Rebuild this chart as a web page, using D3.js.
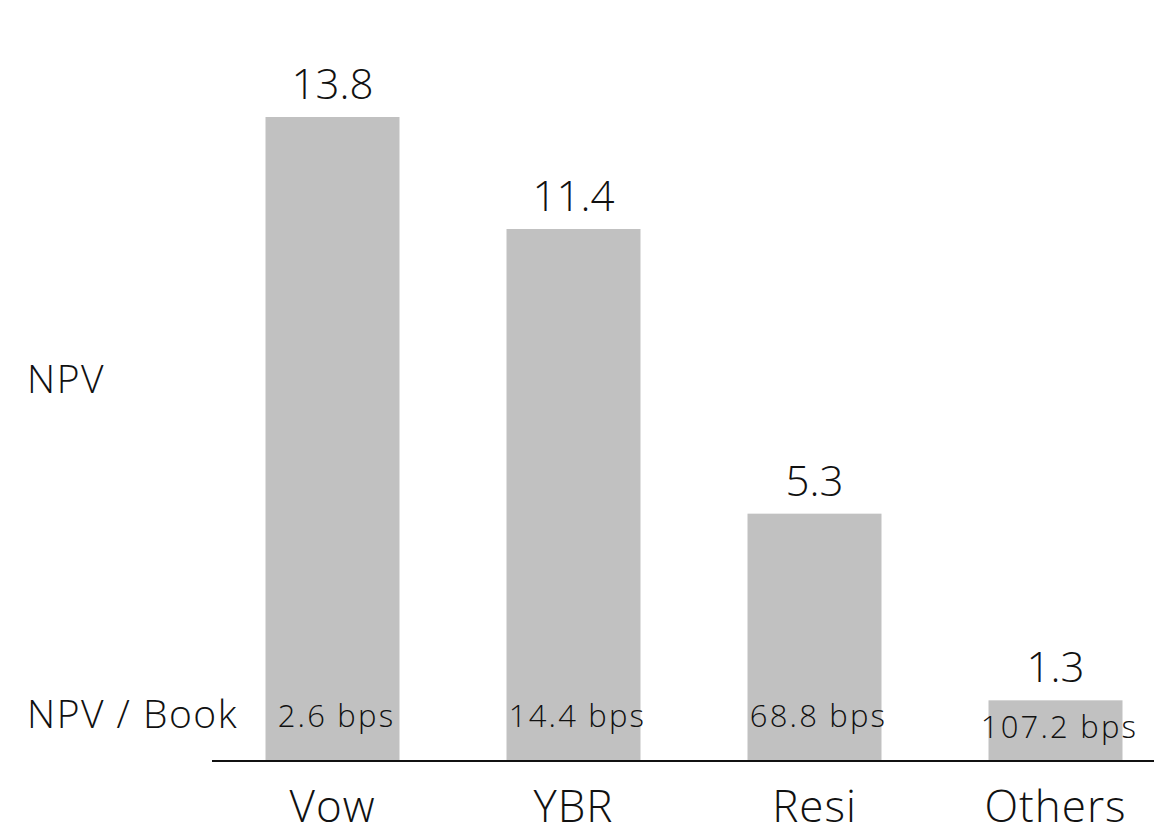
<!DOCTYPE html>
<html>
<head>
<meta charset="utf-8">
<script src="https://cdn.jsdelivr.net/npm/d3@7"></script>
<style>
  html, body { margin: 0; padding: 0; background: #fff; }
  svg { display: block; font-family: "Open Sans", Lato, sans-serif; font-weight: 300; }
</style>
</head>
<body>
<svg id="chart" width="1154" height="828"></svg>
<script>
// Net present value by portfolio, with NPV as a share of book
const categories = ["Vow", "YBR", "Resi", "Others"];
const npvValues = [13.8, 11.4, 5.3, 1.3];
const bookBps = [2.6, 14.4, 68.8, 107.2];
const rowLabels = ["NPV", "NPV / Book"];

const svg = d3.select("#chart");
const W = 1154, H = 828;
const baseY = 761;

const x = d3.scaleBand()
  .domain(categories)
  .range([212, 1176])
  .paddingInner(0.444)
  .paddingOuter(0.222);

const y = d3.scaleLinear()
  .domain([0, 13.8])
  .range([baseY, 117]);

const ink = "#111";

// bars
svg.append("g").selectAll("rect")
  .data(categories)
  .join("rect")
  .attr("x", d => x(d))
  .attr("width", x.bandwidth())
  .attr("y", (d, i) => y(npvValues[i]))
  .attr("height", (d, i) => baseY - y(npvValues[i]))
  .attr("fill", "#c1c1c1");

// value labels above bars
svg.append("g").selectAll("text")
  .data(categories)
  .join("text")
  .attr("x", d => x(d) + x.bandwidth() / 2)
  .attr("y", (d, i) => y(npvValues[i]) - 18)
  .attr("text-anchor", "middle")
  .attr("font-size", 42)
  .attr("fill", ink)
  .text((d, i) => npvValues[i].toFixed(1));

// NPV / Book row
svg.append("g").selectAll("text")
  .data(categories)
  .join("text")
  .attr("x", d => x(d) + x.bandwidth() / 2 + 4)
  .attr("y", (d, i) => Math.max(727, y(npvValues[i]) + 38))
  .attr("text-anchor", "middle")
  .attr("font-size", 31)
  .attr("letter-spacing", 2.2)
  .attr("fill", ink)
  .text((d, i) => bookBps[i].toFixed(1) + " bps");

// baseline
svg.append("line")
  .attr("x1", x.range()[0]).attr("x2", W)
  .attr("y1", baseY).attr("y2", baseY)
  .attr("stroke", ink)
  .attr("stroke-width", 2);

// category axis labels
const xAxis = d3.axisBottom(x).tickSize(0).tickPadding(0);
const gx = svg.append("g").attr("transform", `translate(0,${baseY})`).call(xAxis);
gx.select(".domain").remove();
gx.selectAll("text")
  .attr("dy", null)
  .attr("y", 61)
  .attr("font-size", 44)
  .attr("letter-spacing", 1)
  .attr("font-family", "'Open Sans', Lato, sans-serif")
  .attr("font-weight", 300)
  .attr("fill", ink);

// row labels
svg.append("text")
  .attr("x", 27).attr("y", 393)
  .attr("font-size", 39)
  .attr("letter-spacing", 1.5)
  .attr("fill", ink)
  .text(rowLabels[0]);
svg.append("text")
  .attr("x", 27).attr("y", 728)
  .attr("font-size", 39)
  .attr("letter-spacing", 1.5)
  .attr("fill", ink)
  .text(rowLabels[1]);
</script>
</body>
</html>
